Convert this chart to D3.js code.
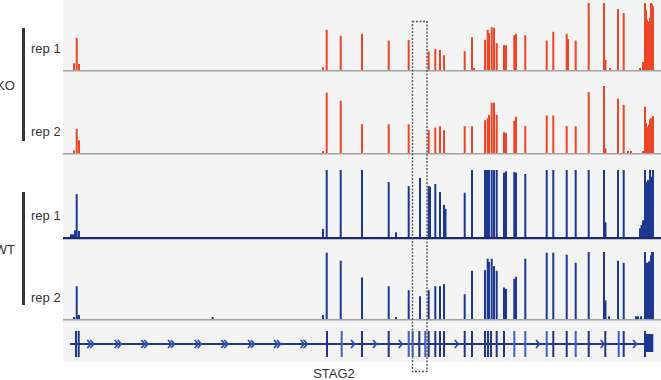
<!DOCTYPE html>
<html>
<head>
<meta charset="utf-8">
<script src="https://cdn.jsdelivr.net/npm/d3@7"></script>
<style>
body { margin: 0; background: #fff; }
svg { display: block; font-family: "Liberation Sans", Arial, sans-serif; }
</style>
</head>
<body>
<div id="browser"></div>
<script>
// peak position (relative genomic unit) and signal (% of track max)
var koRep1 = [
	[11,10],[13.7,48],[16,9],
	[260,4],[263.7,60],[277.7,51],[299,54],[325.7,44],[345.7,45],
	[365.7,28],[372.3,31],[377,30],[381,22],
	[401.7,28],[409,49],[411,3],
	[422,45],[424.7,60],[426,55],[428.7,64],[431,63],[433.7,40],
	[441,37],[443,37],[451.3,52],[453,54],[462.3,52],
	[483.7,44],[490.3,57],[503.7,54],[505,46],[512.7,44],
	[525.7,100],[541,100],[542.5,15],[547,3],[555,91],[560.7,85],
	[577,3],[580,12],[582,100],[583,90],[584,75],[585,72],[586,70],[587,78],[588,100],[589,98],[590,95]
];
var koRep2 = [
	[11,4],[13.7,36],[16,19],
	[260,3],[263.7,90],[277.7,78],[299,43],[325.7,43],[345.7,43],
	[365.7,34],[372.3,38],[377,40],[381,34],
	[401.7,40],[409,40],
	[422,49],[424.7,52],[426,57],[428.7,75],[431,75],[433.7,57],
	[441,31],[443,30],[451.3,48],[453,54],[462.3,40],
	[483.7,56],[490.3,56],[503.7,40],[512.7,40],
	[525.7,91],[541,100],[542.5,7],[555,81],[560.7,72],[565,3],[568,3],
	[580,3],[582,69],[583,45],[584,39],[585,36],[586,42],[587,50],[588,52],[589,40],[590,55]
];
var wtRep1 = [
	[8,4],[10,4],[12,10],[13.7,64],[16,9],
	[260,12],[263.7,100],[277.7,100],[299,100],[325.7,82],[333,7],[345.7,76],
	[357,88],[365.7,76],[367,75],[372.3,79],[377,67],[381,48],[382.5,42],
	[401.7,66],[409,100],
	[422,100],[423.5,100],[424.7,100],[426,100],[428.7,100],[431,100],[433.7,100],
	[441,96],[443,98],[451.3,97],[453,96],[462.3,94],
	[483.7,100],[490.3,100],[503.7,100],[512.7,100],[525.7,100],
	[541,100],[542.5,22],[555,100],[560.7,100],
	[577,13],[578.5,18],[580,25],[582,100],[583,80],[584,82],[585,85],[586,80],[587,100],[588,85],[589,90],[590,100]
];
var wtRep2 = [
	[11,3],[13.7,49],[15,4],[16,6],
	[149.7,3],
	[260,6],[263.7,99],[277.7,87],[299,62],[325.7,49],[333,3],[345.7,43],
	[357,34],[365.7,43],[372.3,49],[377,49],[381,52],
	[401.7,37],[409,72],
	[422,73],[424.7,90],[426,85],[428.7,90],[431,79],[433.7,72],
	[441,47],[443,45],[451.3,60],[453,63],[462.3,90],
	[483.7,99],[490.3,99],[503.7,96],[512.7,84],[525.7,100],
	[541,100],[542.5,28],[546,4],[555,87],[560.7,84],
	[573,4],[575,4],[578,4],
	[582,100],[583,84],[584,82],[585,84],[586,86],[587,84],[588,95],[589,100],[590,100]
];

// gene model: exon position, shade (0 dark, 1 light)
var exons = [
	[13,0],[15.7,0],[264,0],[278.7,1],[299,0],[325.7,0],[345.7,1],[349.7,1],[356.3,0],[362.3,1],
	[365.7,0],[372.3,0],[377,0],[381,0],[401.7,0],[409,0],[422,0],[425,0],[428,0],[433.7,0],
	[441,0],[451.3,1],[462.3,1],[483.7,1],[490.3,0],[503.7,0],[512.7,1],[525.7,0],[542.3,0],
	[555.7,1],[560.7,0],[582,0]
];
var doubleArrows = [26.3, 53.7, 80.3, 107, 133.7, 160.3, 187, 213, 239.7];
var singleArrows = [290, 312, 337.7, 393.7, 475, 539.7, 572];
var geneSpan = [7, 590];
var utrBlock = [582, 590.3];
var highlight = [349.5, 364];

var tracks = [
	{group: "KO", name: "rep 1", data: koRep1, base: 70, color: "#ee4526", line: "#a3a3a3", lw: 1.5},
	{group: "KO", name: "rep 2", data: koRep2, base: 153, color: "#ee4526", line: "#a3a3a3", lw: 1.5},
	{group: "WT", name: "rep 1", data: wtRep1, base: 237, color: "#1c3890", line: "#1c2b6e", lw: 2.2},
	{group: "WT", name: "rep 2", data: wtRep2, base: 319, color: "#1c3890", line: "#a3a3a3", lw: 1.5}
];

var width = 661, height = 380,
	left = 63, trackH = 67;

var svg = d3.select("#browser")
			.append("svg")
			.attr("width", width)
			.attr("height", height);

var x = d3.scaleLinear()
			.domain([0, 598])
			.range([left, width]);

svg.append("rect")
	.attr("x", left)
	.attr("y", 0)
	.attr("width", width - left)
	.attr("height", 362)
	.attr("fill", "#f4f4f4");

tracks.forEach(function(t) {
	var y = d3.scaleLinear()
				.domain([0, 100])
				.range([t.base, t.base - trackH]);

	var g = svg.append("g");

	g.selectAll("rect")
		.data(t.data)
		.join("rect")
		.attr("x", d => x(d[0]) - 1)
		.attr("y", d => y(d[1]))
		.attr("width", 2)
		.attr("height", d => y(0) - y(d[1]))
		.attr("fill", t.color);

	g.append("line")
		.attr("x1", left)
		.attr("x2", width)
		.attr("y1", t.base + t.lw / 2)
		.attr("y2", t.base + t.lw / 2)
		.attr("stroke", t.line)
		.attr("stroke-width", t.lw);

	svg.append("text")
		.attr("x", 31)
		.attr("y", t.base - 17)
		.attr("font-size", 13)
		.attr("fill", "#333")
		.text(t.name);
});

// group brackets
var groups = [
	{label: "KO", y0: 28, y1: 141},
	{label: "WT", y0: 192, y1: 305}
];
groups.forEach(function(gr) {
	svg.append("rect")
		.attr("x", 22)
		.attr("y", gr.y0)
		.attr("width", 3)
		.attr("height", gr.y1 - gr.y0)
		.attr("fill", "#333");
	svg.append("text")
		.attr("x", 15)
		.attr("y", (gr.y0 + gr.y1) / 2 + 5)
		.attr("text-anchor", "end")
		.attr("font-size", 13)
		.attr("fill", "#333")
		.text(gr.label);
});

// gene track
var gy = 344, dark = "#22358a", light = "#3f62c0";
var gene = svg.append("g");

gene.append("line")
	.attr("x1", x(geneSpan[0]))
	.attr("x2", x(geneSpan[1]))
	.attr("y1", gy)
	.attr("y2", gy)
	.attr("stroke", dark)
	.attr("stroke-width", 2);

gene.selectAll(".exon")
	.data(exons)
	.join("rect")
	.attr("class", "exon")
	.attr("x", d => x(d[0]) - 1)
	.attr("y", gy - 13)
	.attr("width", 2)
	.attr("height", 26)
	.attr("fill", d => d[1] ? light : dark);

gene.append("rect")
	.attr("x", x(utrBlock[0]))
	.attr("y", gy - 10)
	.attr("width", x(utrBlock[1]) - x(utrBlock[0]))
	.attr("height", 18)
	.attr("fill", "#1c3890");

var chevron = "M-2,-4L1.5,0L-2,4";
gene.selectAll(".darr")
	.data(doubleArrows)
	.join("path")
	.attr("class", "darr")
	.attr("d", chevron + "M1,-4L4.5,0L1,4")
	.attr("transform", d => "translate(" + x(d) + "," + gy + ")")
	.attr("fill", "none")
	.attr("stroke", "#2f4db0")
	.attr("stroke-width", 1.8);

gene.selectAll(".sarr")
	.data(singleArrows)
	.join("path")
	.attr("class", "sarr")
	.attr("d", chevron)
	.attr("transform", d => "translate(" + x(d) + "," + gy + ")")
	.attr("fill", "none")
	.attr("stroke", "#2f4db0")
	.attr("stroke-width", 1.8);

svg.append("text")
	.attr("x", 334)
	.attr("y", 378)
	.attr("text-anchor", "middle")
	.attr("font-size", 13)
	.attr("fill", "#333")
	.text("STAG2");

// highlighted exon
svg.append("rect")
	.attr("x", x(highlight[0]))
	.attr("y", 21.5)
	.attr("width", x(highlight[1]) - x(highlight[0]))
	.attr("height", 350)
	.attr("fill", "none")
	.attr("stroke", "#555")
	.attr("stroke-width", 1.4)
	.attr("stroke-dasharray", "2,1.5");
</script>
</body>
</html>
